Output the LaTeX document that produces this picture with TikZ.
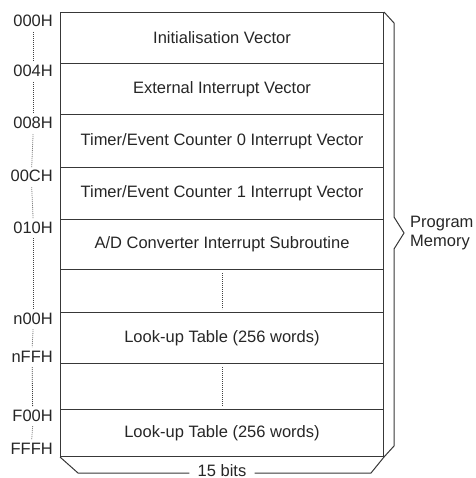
\documentclass[tikz,border=0pt]{standalone}
\usepackage{fontspec}
\setmainfont{Liberation Sans}
\begin{document}
\begin{tikzpicture}[x=1pt,y=-1pt,
  ln/.style={draw=black!78, line width=1pt},
  txt/.style={font=\fontsize{16.5}{19.5}\selectfont, text=black!85},
  row/.style={ln, txt, minimum width=323pt, inner sep=0pt, anchor=north west},
  addr/.style={txt, anchor=base east, inner sep=0pt},
  dts/.style={draw=black!75, line width=0.8pt, dash pattern=on 0.8pt off 1.2pt}]
\useasboundingbox (0,0) rectangle (475,478);
% memory rows
\node[row, minimum height=51pt] (r1) at (60,12) {Initialisation Vector};
\node[row, minimum height=51pt] (r2) at (60,63) {External Interrupt Vector};
\node[row, minimum height=53pt] (r3) at (60,114) {Timer/Event Counter 0 Interrupt Vector};
\node[row, minimum height=52pt] (r4) at (60,167) {Timer/Event Counter 1 Interrupt Vector};
\node[row, minimum height=50pt] (r5) at (60,219) {A/D Converter Interrupt Subroutine};
\node[row, minimum height=43pt] (r6) at (60,269) {};
\node[row, minimum height=51pt] (r7) at (60,312) {Look-up Table (256 words)};
\node[row, minimum height=46pt] (r8) at (60,363) {};
\node[row, minimum height=47pt] (r9) at (60,409) {Look-up Table (256 words)};
% dotted gaps inside rows
\draw[dts] ([yshift=-4pt]r6.north) -- ([yshift=4pt]r6.south);
\draw[dts] ([yshift=-4pt]r8.north) -- ([yshift=4pt]r8.south);
% addresses
\node[addr] (a0) at (53,27) {000H};
\node[addr] (a1) at (53,77) {004H};
\node[addr] (a2) at (53,129) {008H};
\node[addr] (a3) at (53,182) {00CH};
\node[addr] (a4) at (53,233) {010H};
\node[addr] (a5) at (53,324) {n00H};
\node[addr] (a6) at (53,362) {nFFH};
\node[addr] (a7) at (53,421) {F00H};
\node[addr] (a8) at (53,454) {FFFH};
\foreach \p/\q in {a0/a1,a1/a2,a2/a3,a3/a4,a4/a5,a5/a6,a6/a7,a7/a8}
  \draw[dts] ([yshift=-5pt]\p.south) -- ([yshift=3pt]\q.north);
% program memory brace
\coordinate (b1) at (394,23);
\coordinate (b2) at (394,217);
\coordinate (bt) at (404,233);
\coordinate (b3) at (394,249);
\coordinate (b4) at (394,446);
\draw[ln, line join=miter] (r1.north east) -- (b1) -- (b2) -- (bt) -- (b3) -- (b4) -- (r9.south east);
\node[txt, anchor=west, align=left, inner sep=0pt] (pm) at (410,233) {Program\\[-1pt]Memory};
% 15 bits brace
\node[txt, inner xsep=8pt, inner ysep=0pt] (bits) at (222,471) {15 bits};
\coordinate (c1) at (78,473);
\coordinate (c2) at (371,473);
\draw[ln] (r9.south west) -- (c1) -- (c1 -| bits.west);
\draw[ln] (c2 -| bits.east) -- (c2) -- (r9.south east);
\end{tikzpicture}
\end{document}
